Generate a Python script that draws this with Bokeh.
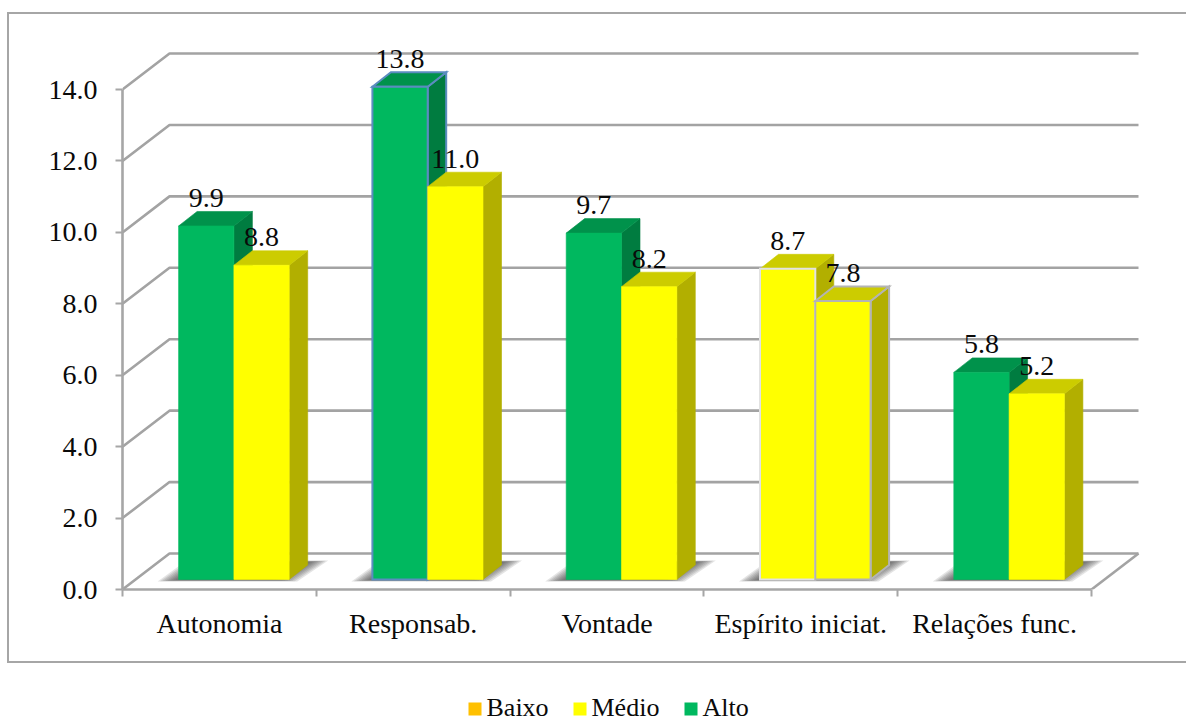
from bokeh.embed import file_html
from bokeh.resources import INLINE
from bokeh.layouts import column
from bokeh.plotting import figure
from bokeh.models import ColumnDataSource, FixedTicker, LinearAxis, NumeralTickFormatter, Range1d
from bokeh.core.properties import value

categories = ["Autonomia", "Responsab.", "Vontade", "Espírito iniciat.", "Relações func."]
first_bar = [9.9, 13.8, 9.7, 8.7, 5.8]
second_bar = [8.8, 11.0, 8.2, 7.8, 5.2]
first_kind = ["Alto", "Alto", "Alto", "Médio", "Alto"]
second_kind = ["Médio", "Médio", "Médio", "Médio", "Médio"]
value_ticks = [0, 2, 4, 6, 8, 10, 12, 14]
legend_names = ["Baixo", "Médio", "Alto"]
legend_colors = ["#ffc000", "#ffff00", "#00b85f"]

FONT = "Liberation Serif"
GRID = "#a3a3a3"
AXIS = "#a6a6a6"
INK = "#0a0a0a"
FACES = {
    "Alto": ("#00b85f", "#00924b", "#007c40"),
    "Médio": ("#ffff00", "#cccc00", "#b2af00"),
}
# (category index, bar slot) -> outline colour of that bar, and whether it wraps all faces
OUTLINES = {(1, 0): ("#5b8cc0", True), (3, 0): ("#e2e2e2", False), (3, 1): ("#b4b4b4", True)}

PAGE_W, PAGE_H = 1186, 721
PANEL_X, PANEL_Y = 7, 12       # page position of the bordered chart panel
PANEL_BOTTOM = 663
LEFT, RIGHT, TOP, BOTTOM = 122, 1146, 44, 589   # plot frame, page pixels
PX_X = 193.8   # pixels per category
PX_Y = 35.71   # pixels per value unit
WALL_DX, WALL_DY = 47, 36      # depth of the chart box
NEAR_DX, NEAR_DY = 14.5, 10    # front face of the bars inside the box
FAR_DX, FAR_DY = 33, 24.5      # back face of the bars inside the box
BAR_W = 55.3 / PX_X
BORDER = 2


def ox(px):
    return px / PX_X


def oy(px):
    return px / PX_Y


panel_w = PAGE_W - PANEL_X
panel_h = PANEL_BOTTOM - PANEL_Y
p = figure(
    width=panel_w, height=panel_h, output_backend="svg", toolbar_location=None,
    x_range=Range1d(0, (RIGHT - LEFT) / PX_X),
    y_range=Range1d(0, (BOTTOM - TOP) / PX_Y),
    x_axis_location=None, y_axis_location=None,
    min_border_left=LEFT - PANEL_X - BORDER, min_border_right=PAGE_W - RIGHT + BORDER,
    min_border_top=TOP - PANEL_Y - BORDER, min_border_bottom=PANEL_BOTTOM - BOTTOM + BORDER,
    background_fill_color="white", border_fill_color="white", outline_line_color=None,
    margin=(PANEL_Y, 0, 0, PANEL_X), frame_align=False,
    styles={
        "box-sizing": "border-box",
        "border-left": f"{BORDER}px solid {AXIS}",
        "border-top": f"{BORDER}px solid {AXIS}",
        "border-bottom": f"{BORDER}px solid {AXIS}",
    },
)
p.grid.visible = False

# Back wall gridlines with their diagonals along the side wall
n = len(categories)
xs, ys = [], []
for v in value_ticks:
    xs.append([0, ox(WALL_DX), n + ox(WALL_DX)])
    ys.append([v, v + oy(WALL_DY), v + oy(WALL_DY)])
xs.append([n, n + ox(WALL_DX)])
ys.append([0, oy(WALL_DY)])
p.multi_line(xs, ys, line_color=GRID, line_width=2.6)


def quad_face(pts, fill, outline=None):
    p.patch([a for a, _ in pts], [b for _, b in pts], fill_color=fill,
            line_color=outline or fill, line_width=2 if outline else 0.6, line_join="miter")


def draw_bar(x0, val, kind, style):
    front, top, side = FACES[kind]
    outline, wrap = style if style else (None, False)
    x1 = x0 + BAR_W
    b0, t0 = oy(NEAR_DY), oy(NEAR_DY) + val
    ddx, ddy = ox(FAR_DX - NEAR_DX), oy(FAR_DY - NEAR_DY)
    back = outline if wrap else None
    quad_face([(x1, b0), (x1 + ddx, b0 + ddy), (x1 + ddx, t0 + ddy), (x1, t0)], side, back)
    quad_face([(x0, t0), (x0 + ddx, t0 + ddy), (x1 + ddx, t0 + ddy), (x1, t0)], top, back)
    quad_face([(x0, b0), (x1, b0), (x1, t0), (x0, t0)], front, outline)


label_x, label_y, label_text = [], [], []
for i in range(n):
    x_left = i + 0.5 + ox(NEAR_DX) - BAR_W
    x_right = x_left + BAR_W
    x_end = x_right + BAR_W
    base = oy(NEAR_DY)

    # Soft floor shadow behind each pair of bars, built up from translucent layers
    for k in range(11):
        s = k * 2.5
        lift = k * 0.2
        sx = [x_left - ox(21 - s), x_end + ox(8 - s), x_end + ox(39 - s), x_left + ox(8 + s)]
        sy = [base - oy(2 - lift), base - oy(2 - lift), base + oy(19 - lift), base + oy(19 - lift)]
        p.patch(sx, sy, fill_color="#404040", fill_alpha=0.14, line_color=None)

    draw_bar(x_left, first_bar[i], first_kind[i], OUTLINES.get((i, 0)))
    draw_bar(x_right, second_bar[i], second_kind[i], OUTLINES.get((i, 1)))

    label_x += [x_left + BAR_W / 2, x_right + BAR_W / 2]
    label_y += [base + first_bar[i], base + second_bar[i]]
    label_text += [f"{first_bar[i]:.1f}", f"{second_bar[i]:.1f}"]

p.text(x="x", y="y", text="t", source=ColumnDataSource(dict(x=label_x, y=label_y, t=label_text)),
       text_font=value(FONT), text_font_size="28px", text_color=INK,
       text_align="center", text_baseline="middle", y_offset=-28)

# Value axis
y_axis = LinearAxis(ticker=FixedTicker(ticks=value_ticks), bounds=(0, 14),
                    formatter=NumeralTickFormatter(format="0.0"))
# Category axis: tick marks sit between categories, labels at their centres
x_axis = LinearAxis(ticker=FixedTicker(ticks=[i + 0.5 for i in range(n)],
                                       minor_ticks=list(range(n + 1))),
                    bounds=(0, n),
                    major_label_overrides={i + 0.5: c for i, c in enumerate(categories)})
for axis in (x_axis, y_axis):
    axis.axis_line_color = AXIS
    axis.axis_line_width = 2.6
    axis.major_label_text_font = FONT
    axis.major_label_text_font_size = "28px"
    axis.major_label_text_color = INK
    axis.minor_tick_line_color = AXIS
    axis.minor_tick_line_width = 2
    axis.minor_tick_in = 0
    axis.major_tick_in = 0
y_axis.major_tick_out = 7
y_axis.major_tick_line_color = AXIS
y_axis.major_tick_line_width = 2
y_axis.minor_tick_out = 0
y_axis.major_label_standoff = 18
x_axis.major_tick_out = 0
x_axis.major_tick_line_color = None
x_axis.minor_tick_out = 7
x_axis.major_label_standoff = 11
p.add_layout(y_axis, "left")
p.add_layout(x_axis, "below")

# Legend strip under the panel, laid out in page pixels
strip_h = PAGE_H - PANEL_BOTTOM
strip = figure(width=PAGE_W, height=strip_h, output_backend="svg", toolbar_location=None,
               x_range=Range1d(0, PAGE_W), y_range=Range1d(PAGE_H, PANEL_BOTTOM),
               x_axis_location=None, y_axis_location=None, frame_align=False,
               min_border_left=0, min_border_right=0, min_border_top=0, min_border_bottom=0,
               outline_line_color=None, background_fill_color="white", border_fill_color="white")
strip.grid.visible = False
swatch_left = [468, 573, 684]
strip.rect(x=[a + 6.5 for a in swatch_left], y=708.5, width=13, height=13,
           fill_color=legend_colors, line_color=None)
strip.text(x=[a + 18 for a in swatch_left], y=707, text=legend_names,
           text_font=value(FONT), text_font_size="26px", text_color=INK,
           text_align="left", text_baseline="middle")

page = column(p, strip, spacing=0)
open("out.html", "w").write(file_html(page, INLINE))
